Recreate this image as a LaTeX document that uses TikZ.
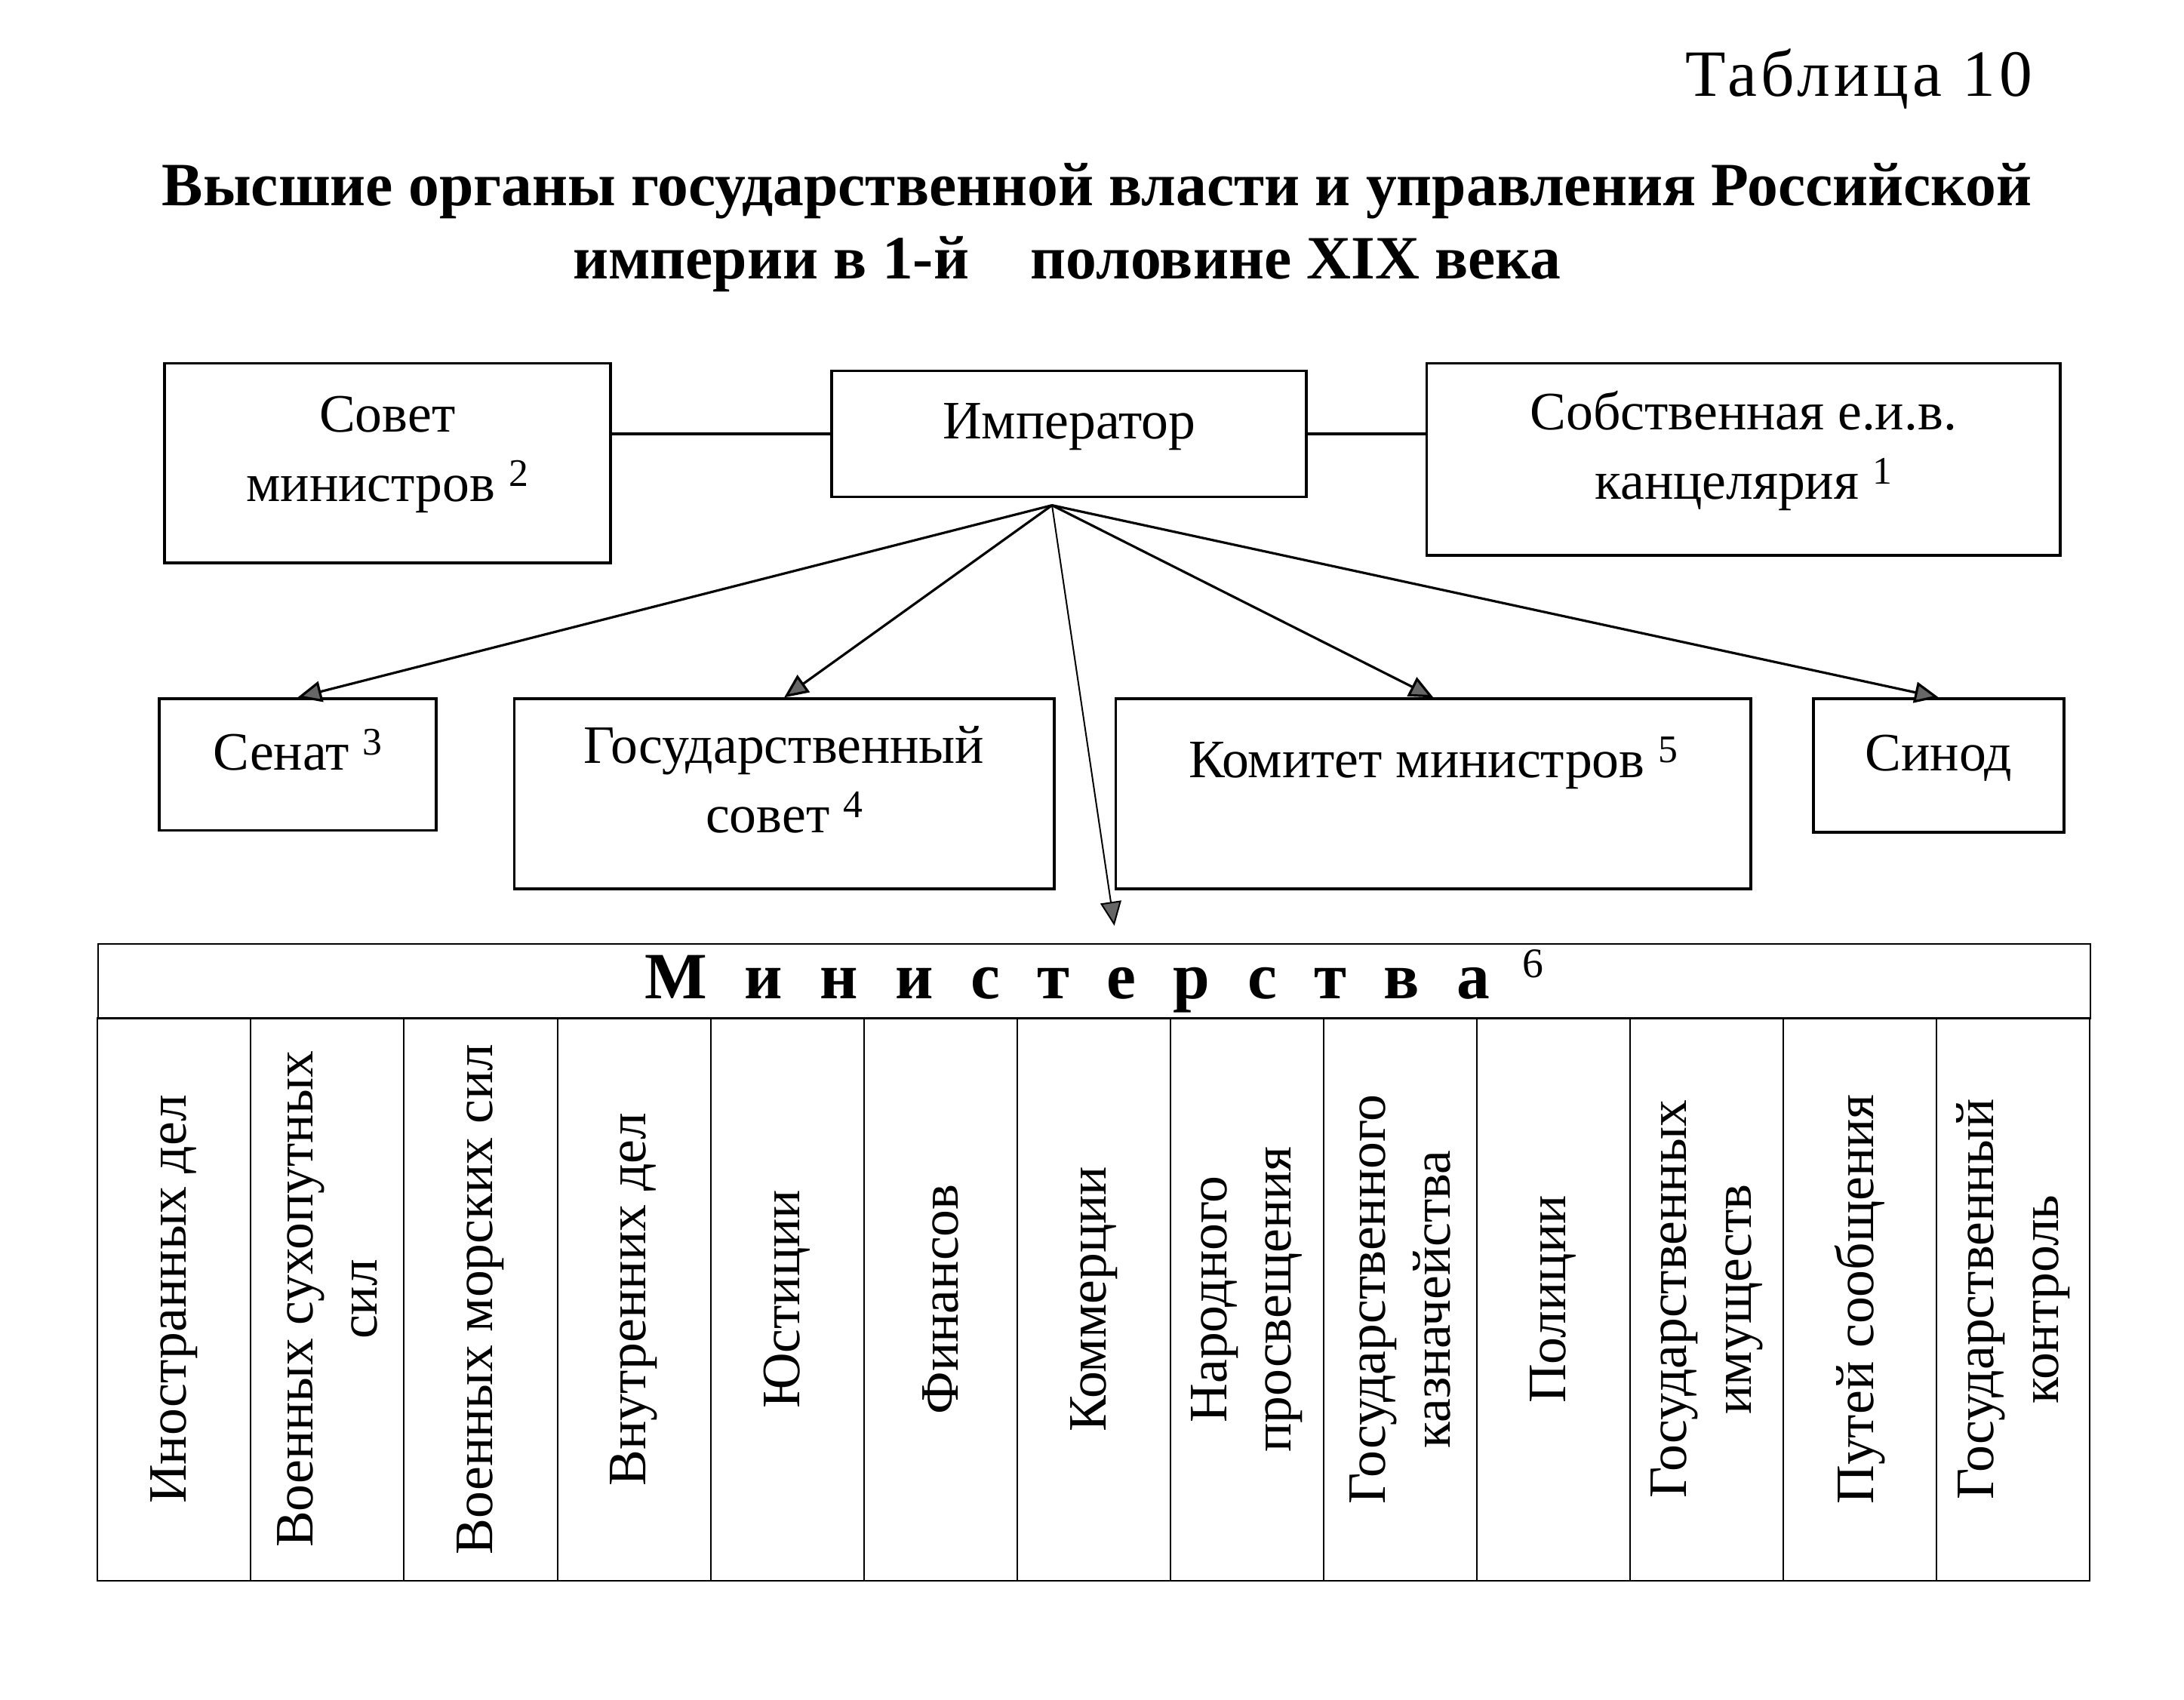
\documentclass[tikz,border=0pt]{standalone}
\usepackage{fontspec}
\setmainfont{Liberation Serif}
\newfontfamily\spacedfont[LetterSpace=6]{Liberation Serif}
\usetikzlibrary{positioning,arrows.meta}
\newcommand{\fnote}[1]{\raisebox{0.6ex}{\fontsize{13}{13}\selectfont #1}}
\newcommand{\lgap}{\hspace{12.4pt}}

\tikzset{
  orgbox/.style={draw, line width=0.9pt, align=center, inner sep=2pt,
    text depth=9.5pt, font=\fontsize{18}{23}\selectfont},
  oneline/.style={text height=13pt},
  ministry/.style={draw, line width=0.5pt, rotate=90, minimum width=187.25pt,
    minimum height=51.02pt, inner sep=0pt, align=center,
    font=\fontsize{18}{21.5}\selectfont},
  link/.style={line width=0.9pt},
  subord/.style={line width=0.8pt, -{Triangle[length=8pt,width=7pt,fill=black!60]}},
}

\begin{document}
\begin{tikzpicture}[x=0.25pt, y=-0.25pt]
  \useasboundingbox (0,0) rectangle (2908.5,2263.3);

  % Heading
  \node[anchor=east, font=\spacedfont\fontsize{22}{26}\selectfont] (tabno) at (2721,105) {Таблица 10};
  \node[align=center, font=\bfseries\fontsize{20.5}{24.5}\selectfont] (title) at (1461,303)
    {Высшие органы государственной власти и управления Российской\\
     империи в 1-й\quad половине XIX века\hspace*{20pt}};

  % Top row
  \node[orgbox, oneline, minimum width=158pt, minimum height=42pt, anchor=north west] (imp) at (1106,492) {Император};
  \node[orgbox, minimum width=148.5pt, minimum height=66.5pt, anchor=north west] (sovet) at (217,482)
    {Совет\\министров \fnote{2}};
  \node[orgbox, minimum width=211pt, minimum height=64pt, anchor=north west] (sobst) at (1898,482)
    {Собственная е.и.в.\\канцелярия \fnote{1}};

  % Second row
  \node[orgbox, oneline, minimum width=92.25pt, minimum height=43.75pt, anchor=north west] (senat) at (210,929) {Сенат \fnote{3}};
  \node[orgbox, minimum width=179.75pt, minimum height=63.25pt, anchor=north west] (gossovet) at (683,929)
    {Государственный\\совет \fnote{4}};
  \node[orgbox, oneline, minimum width=211.5pt, minimum height=63.25pt, anchor=north west, text depth=24pt] (komitet) at (1484,929)
    {Комитет министров \fnote{5}};
  \node[orgbox, oneline, minimum width=83.5pt, minimum height=44.5pt, anchor=north west] (sinod) at (2413,929) {Синод};

  % Ministries
  \node[draw, line width=0.5pt, minimum width=663.25pt, minimum height=25pt, inner sep=0pt,
    anchor=north west, font=\bfseries\fontsize{22}{24}\selectfont] (mhead) at (130,1256)
    {М\lgap и\lgap н\lgap и\lgap с\lgap т\lgap е\lgap р\lgap с\lgap т\lgap в\lgap а\hspace{11pt}\raisebox{0.7ex}{\mdseries\fontsize{14}{14}\selectfont 6}};
  \foreach \name [count=\i] in {Иностранных дел, {Военных сухопутных\\сил}, Военных морских сил,
      Внутренних дел, Юстиции, Финансов, Коммерции, {Народного\\просвещения},
      {Государственного\\казначейства}, Полиции, {Государственных\\имуществ},
      Путей сообщения, {Государственный\\контроль}}
    \node[ministry] (min\i) at ({130+204.08*(\i-0.5)},1730.5) {\name};

  % Connections
  \coordinate (hub) at (1401,673);
  \coordinate (mtip) at (1484,1233);
  \draw[link] (imp.west) -- (imp.west -| sovet.east);
  \draw[link] (imp.east) -- (imp.east -| sobst.west);
  \draw[subord] (hub) -- (senat.north);
  \draw[subord] (hub) -- (gossovet.north);
  \draw[subord] (hub) -- (komitet.north);
  \draw[subord] (hub) -- (sinod.north);
  \draw[subord, line width=0.5pt] (hub) -- (mtip);
\end{tikzpicture}
\end{document}
